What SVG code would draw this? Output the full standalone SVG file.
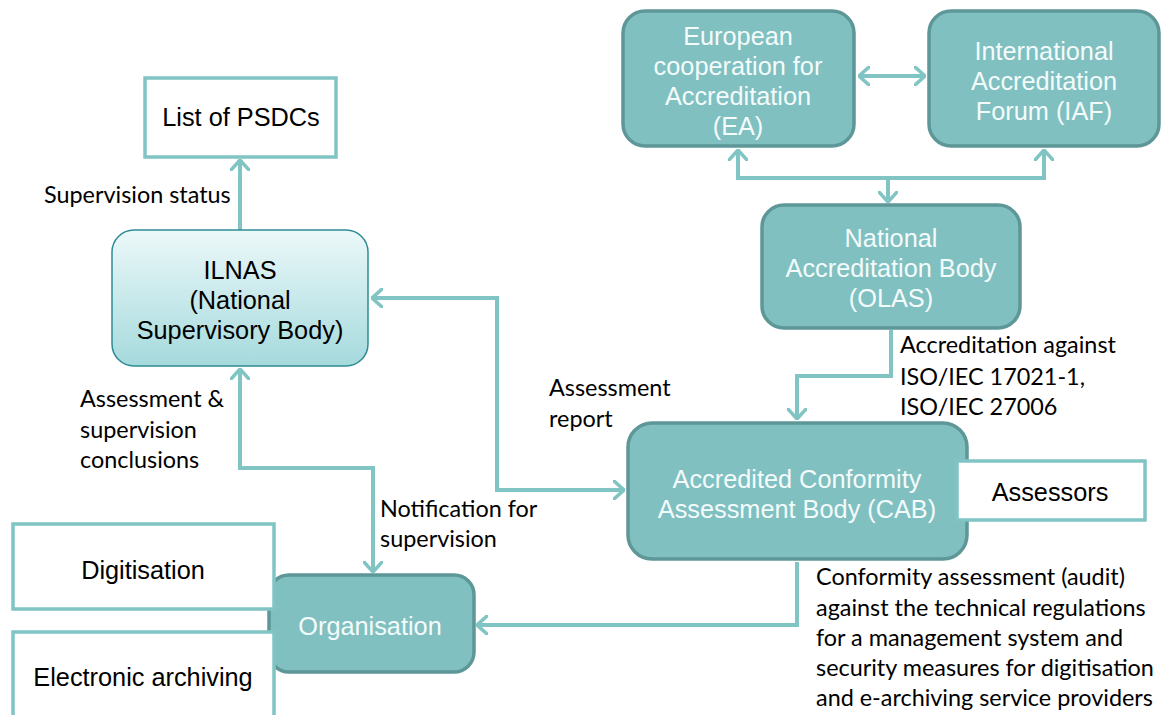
<svg xmlns="http://www.w3.org/2000/svg" width="1163" height="715" viewBox="0 0 1163 715">
<style>
.teal{fill:#80c0c1;stroke:#5e9798;stroke-width:3.5}
.white{fill:#ffffff;stroke:#80c4c4;stroke-width:3.5}
.tw{font-family:"Liberation Sans",Arial,sans-serif;font-size:25.3px;fill:#f4fbfb;text-anchor:middle}
.tb{font-family:"Liberation Sans",Arial,sans-serif;font-size:25.3px;fill:#000;text-anchor:middle}
.lbl{font-family:Lato,"Open Sans",sans-serif;font-size:23.4px;fill:#000}
.con{fill:none;stroke:#80c4c4;stroke-width:4}
</style>
<defs>
<marker id="arr" viewBox="0 0 12 20" refX="11" refY="10" markerWidth="12" markerHeight="20" markerUnits="userSpaceOnUse" orient="auto-start-reverse">
<path d="M1,1 L11,10 L1,19" fill="none" stroke="#80c4c4" stroke-width="3.5" stroke-linecap="round" stroke-linejoin="round"/>
</marker>
<linearGradient id="ilg" x1="0" y1="0" x2="0" y2="1">
<stop offset="0" stop-color="#ecf8f9"/>
<stop offset="1" stop-color="#a5dadd"/>
</linearGradient>
</defs>

<g id="connectors">
<path class="con" d="M240,230 L240,160" marker-end="url(#arr)"/>
<path class="con" d="M859,76 L925,76" marker-start="url(#arr)" marker-end="url(#arr)"/>
<path class="con" d="M738,150 L738,178 L1044,178 L1044,150" marker-start="url(#arr)" marker-end="url(#arr)"/>
<path class="con" d="M888,178 L888,202" marker-end="url(#arr)"/>
<path class="con" d="M891,330 L891,376 L797,376 L797,419" marker-end="url(#arr)"/>
<path class="con" d="M372,298 L497,298 L497,490 L624,490" marker-start="url(#arr)" marker-end="url(#arr)"/>
<path class="con" d="M240,369 L240,468 L373,468 L373,572" marker-start="url(#arr)" marker-end="url(#arr)"/>
<path class="con" d="M797,562 L797,625 L477,625" marker-end="url(#arr)"/>
</g>

<g id="ea">
<rect class="teal" x="623" y="11" width="231" height="135" rx="22"/>
<text class="tw" x="738" y="45">European</text>
<text class="tw" x="738" y="75">cooperation for</text>
<text class="tw" x="738" y="105">Accreditation</text>
<text class="tw" x="738" y="135">(EA)</text>
</g>

<g id="iaf">
<rect class="teal" x="929" y="11" width="230" height="135" rx="22"/>
<text class="tw" x="1044" y="60">International</text>
<text class="tw" x="1044" y="90">Accreditation</text>
<text class="tw" x="1044" y="120">Forum (IAF)</text>
</g>

<g id="olas">
<rect class="teal" x="762" y="205" width="258" height="123" rx="22"/>
<text class="tw" x="891" y="247">National</text>
<text class="tw" x="891" y="277">Accreditation Body</text>
<text class="tw" x="891" y="307">(OLAS)</text>
</g>

<g id="list">
<rect class="white" x="145" y="78" width="191" height="79"/>
<text class="tb" x="241" y="126">List of PSDCs</text>
</g>

<g id="ilnas">
<rect x="112" y="230" width="256" height="136" rx="22" fill="url(#ilg)" stroke="#2e8c94" stroke-width="1.5"/>
<text class="tb" x="240" y="279">ILNAS</text>
<text class="tb" x="240" y="309">(National</text>
<text class="tb" x="240" y="339">Supervisory Body)</text>
</g>

<g id="cab">
<rect class="teal" x="628" y="423" width="339" height="136" rx="24"/>
<text class="tw" x="797" y="488">Accredited Conformity</text>
<text class="tw" x="797" y="518">Assessment Body (CAB)</text>
</g>

<g id="assessors">
<rect class="white" x="957" y="461" width="188" height="59"/>
<text class="tb" x="1050" y="501">Assessors</text>
</g>

<g id="organisation">
<rect class="teal" x="269" y="575" width="205" height="97" rx="20"/>
<text class="tw" x="370" y="635">Organisation</text>
</g>

<g id="digitisation">
<rect class="white" x="13" y="524" width="261" height="85"/>
<text class="tb" x="143" y="579">Digitisation</text>
</g>

<g id="archiving">
<rect class="white" x="13" y="632" width="261" height="90"/>
<text class="tb" x="143" y="686">Electronic archiving</text>
</g>

<g id="labels">
<text class="lbl" x="44" y="203">Supervision status</text>
<text class="lbl" x="80" y="407">Assessment &amp;</text>
<text class="lbl" x="80" y="438">supervision</text>
<text class="lbl" x="80" y="468">conclusions</text>
<text class="lbl" x="380" y="517">Notification for</text>
<text class="lbl" x="380" y="547">supervision</text>
<text class="lbl" x="549" y="396">Assessment</text>
<text class="lbl" x="549" y="427">report</text>
<text class="lbl" x="900" y="353">Accreditation against</text>
<text class="lbl" x="900" y="385">ISO/IEC 17021-1,</text>
<text class="lbl" x="900" y="415">ISO/IEC 27006</text>
<text class="lbl" x="816" y="585">Conformity assessment (audit)</text>
<text class="lbl" x="816" y="616">against the technical regulations</text>
<text class="lbl" x="816" y="646">for a management system and</text>
<text class="lbl" x="816" y="676">security measures for digitisation</text>
<text class="lbl" x="816" y="706">and e-archiving service providers</text>
</g>
</svg>
